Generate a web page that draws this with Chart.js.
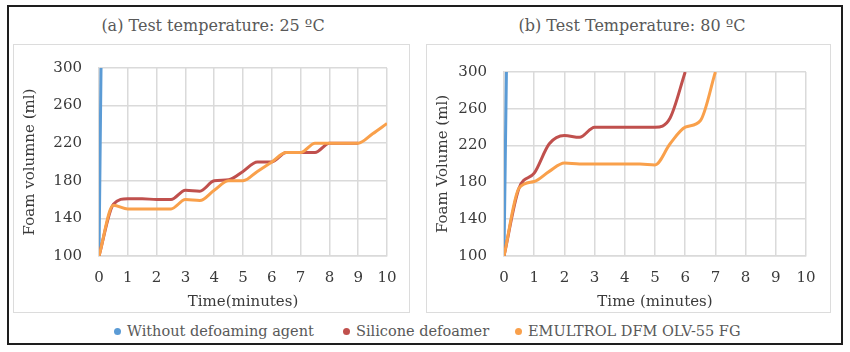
<!DOCTYPE html>
<html>
<head>
<meta charset="utf-8">
<script src="https://cdn.jsdelivr.net/npm/chart.js@4.4.1/dist/chart.umd.min.js"></script>
<style>
  html, body { margin: 0; padding: 0; background: #fff; }
  body { width: 850px; height: 352px; position: relative; overflow: hidden; font-family: "DejaVu Serif", serif; }
  .frame { position: absolute; left: 7px; top: 5px; width: 836px; height: 340px; box-sizing: border-box; border: 2px solid #1e1e1e; }
  .box { position: absolute; box-sizing: border-box; border: 1.5px solid #dcdcdc; background: #fff; }
  .cv { position: absolute; }
  .ttl { position: absolute; top: 16px; font-size: 16px; color: #595959; white-space: nowrap; transform: translateX(-50%); }
  .leg { position: absolute; top: 323px; font-size: 14.5px; color: #595959; white-space: nowrap; }
  .leg span.dot { display: inline-block; width: 7px; height: 7px; border-radius: 50%; margin-right: 6px; vertical-align: 1px; }
</style>
</head>
<body>
<div class="frame"></div>
<div class="box" style="left:13px;top:44px;width:397px;height:269px"></div>
<div class="box" style="left:426px;top:44px;width:405px;height:269px"></div>
<div class="ttl" id="titleA" style="left:213px"></div>
<div class="ttl" id="titleB" style="left:632px"></div>
<canvas id="chartA" class="cv" width="402" height="307" style="left:9px;top:7px"></canvas>
<canvas id="chartB" class="cv" width="405" height="307" style="left:426px;top:7px"></canvas>
<div id="legend"></div>
<script>
// ---- data ----
const chartTitles = ["(a) Test temperature: 25 ºC", "(b) Test Temperature: 80 ºC"];
const yTitles = ["Foam volumne (ml)", "Foam Volume (ml)"];
const xTitles = ["Time(minutes)", "Time (minutes)"];
const seriesNames = ["Without defoaming agent", "Silicone defoamer", "EMULTROL DFM OLV-55 FG"];
const seriesColors = ["#5b9bd5", "#c0504d", "#f9a04b"];

// (a) 25 ºC
const timeBlueA = [0, 0.07];
const noAgentA = [100, 300];
const timeSiliconeA = [0, 0.5, 1, 1.5, 2, 2.5, 3, 3.5, 4, 4.5, 5, 5.5, 6, 6.5, 7, 7.5, 8, 8.5, 9];
const siliconeA = [100, 155, 161, 161, 160, 160, 170, 169, 180, 181, 190, 200, 200, 210, 210, 210, 220, 220, 220];
const timeEmultrolA = [0, 0.5, 1, 1.5, 2, 2.5, 3, 3.5, 4, 4.5, 5, 5.5, 6, 6.5, 7, 7.5, 8, 8.5, 9, 9.5, 10];
const emultrolA = [100, 154, 150, 150, 150, 150, 160, 159, 170, 180, 180, 190, 200, 210, 210, 220, 220, 220, 220, 230, 241];

// (b) 80 ºC
const timeBlueB = [0, 0.08];
const noAgentB = [100, 300];
const timeSiliconeB = [0, 0.5, 1, 1.5, 2, 2.5, 3, 3.5, 4, 4.5, 5, 5.5, 6];
const siliconeB = [100, 174, 190, 222, 231, 229, 240, 240, 240, 240, 240, 250, 300];
const timeEmultrolB = [0, 0.5, 1, 1.5, 2, 2.5, 3, 3.5, 4, 4.5, 5, 5.5, 6, 6.5, 7];
const emultrolB = [100, 174, 181, 192, 201, 200, 200, 200, 200, 200, 199, 222, 240, 247, 300];

const xTicks = [0, 1, 2, 3, 4, 5, 6, 7, 8, 9, 10];
const yTicks = [100, 140, 180, 220, 260, 300];

// ---- helpers ----
const toXY = (xs, ys) => xs.map((x, i) => ({ x: x, y: ys[i] }));
const FONT = "'DejaVu Serif', serif";
const GRID = "#dadada";

function makeChart(id, sets, idx, yWidth, padTop, padRight, yTitlePad) {
  const datasets = sets.map((s, i) => ({
    label: seriesNames[i],
    data: toXY(s[0], s[1]),
    borderColor: seriesColors[i],
    backgroundColor: seriesColors[i],
    borderWidth: 3,
    pointRadius: 0,
    fill: false,
    cubicInterpolationMode: 'monotone',
    order: 2 - i
  }));
  return new Chart(document.getElementById(id), {
    type: 'line',
    data: { datasets },
    options: {
      responsive: false,
      animation: false,
      devicePixelRatio: 1,
      layout: { padding: { top: padTop, right: padRight, left: 0, bottom: 0 } },
      plugins: { legend: { display: false }, title: { display: false }, tooltip: { enabled: false } },
      scales: {
        x: {
          type: 'linear', min: xTicks[0], max: xTicks[xTicks.length - 1],
          afterBuildTicks: (s) => { s.ticks = xTicks.map(v => ({ value: v })); },
          afterFit: (s) => { s.height = 58; },
          grid: { color: GRID, lineWidth: 1.5, drawTicks: false },
          border: { color: GRID, width: 1.5 },
          ticks: { color: '#3a3a3a', font: { family: FONT, size: 15 }, padding: 13, maxRotation: 0 },
          title: { display: true, text: xTitles[idx], color: '#3a3a3a', font: { family: FONT, size: 15 }, padding: { top: 0, bottom: 3 } }
        },
        y: {
          min: yTicks[0], max: yTicks[yTicks.length - 1],
          afterBuildTicks: (s) => { s.ticks = yTicks.map(v => ({ value: v })); },
          afterFit: (s) => { s.width = yWidth; },
          grid: { color: GRID, lineWidth: 1.5, drawTicks: false },
          border: { color: GRID, width: 1.5 },
          ticks: { color: '#3a3a3a', font: { family: FONT, size: 15 }, padding: 17 },
          title: { display: true, text: yTitles[idx], color: '#3a3a3a', font: { family: FONT, size: 15 }, padding: { top: yTitlePad, bottom: 0 } }
        }
      }
    }
  });
}

document.getElementById('titleA').textContent = chartTitles[0];
document.getElementById('titleB').textContent = chartTitles[1];

makeChart('chartA', [[timeBlueA, noAgentA], [timeSiliconeA, siliconeA], [timeEmultrolA, emultrolA]], 0, 90, 61, 24, 12);
makeChart('chartB', [[timeBlueB, noAgentB], [timeSiliconeB, siliconeB], [timeEmultrolB, emultrolB]], 1, 78, 65, 25, 8);

// HTML legend
const legLeft = [114, 343, 515];
const legend = document.getElementById('legend');
seriesNames.forEach((n, i) => {
  const d = document.createElement('div');
  d.className = 'leg';
  d.style.left = legLeft[i] + 'px';
  d.innerHTML = '<span class="dot" style="background:' + seriesColors[i] + '"></span>' + n;
  legend.appendChild(d);
});
</script>
</body>
</html>
